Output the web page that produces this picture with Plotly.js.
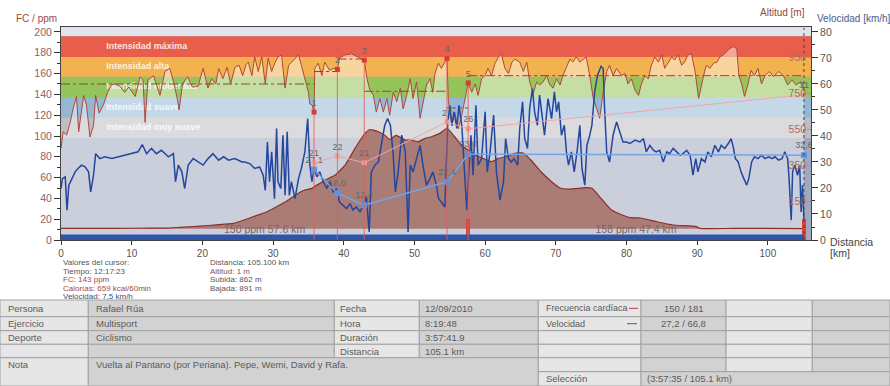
<!DOCTYPE html>
<html><head><meta charset="utf-8">
<script src="https://cdn.plot.ly/plotly-3.0.1.min.js"></script>
<style>body{margin:0;background:#fff}#chart{width:890px;height:386px}</style>
</head><body><div id="chart"></div>
<script>
// ---------------- DATA ----------------
const hrKm = [0,0.3,0.8,1.3,1.7,2.2,2.5,3.2,3.6,4.1,4.6,4.9,5.4,6.0,6.6,7.1,7.6,8.3,9.0,9.6,10.5,11.2,11.6,11.9,12.3,13.1,14.0,14.7,15.4,16.0,16.5,16.7,17.2,17.9,18.6,19.4,20.1,20.8,21.3,21.9,22.3,22.9,23.5,24.0,24.6,25.2,25.7,26.2,26.5,27.0,27.4,27.9,28.4,28.9,29.3,29.8,30.3,30.7,31.2,31.7,32.2,32.6,33.1,33.6,34.0,34.5,35.0,35.2,35.5,35.8,35.9,36.4,36.9,37.3,38.0,38.5,39.1,39.4,40.2,41.1,42.1,42.9,43.3,43.7,44.2,44.6,45.1,45.6,46.1,46.5,47.0,47.5,48.0,48.4,48.9,49.4,49.8,50.3,50.8,51.2,51.7,52.2,52.6,52.9,53.4,53.8,54.3,54.6,54.8,55.3,55.7,56.2,56.7,57.1,57.6,58.1,58.6,59.0,59.5,60.0,60.4,60.9,61.4,61.9,62.3,62.8,63.3,63.8,64.2,64.9,65.4,65.9,66.3,66.8,67.3,67.7,68.2,68.7,69.1,69.6,70.1,70.6,71.0,71.5,72.0,72.4,72.9,73.4,73.9,74.3,74.8,75.3,75.8,76.2,76.7,77.2,77.6,78.1,78.6,79.3,79.8,80.2,80.7,81.2,81.7,82.1,82.6,83.1,83.5,84.0,84.5,85.0,85.4,85.9,86.4,86.8,87.3,87.8,88.2,88.7,89.2,89.7,90.2,90.9,91.3,91.8,92.3,92.8,93.2,93.7,94.2,94.6,95.1,95.6,95.9,96.3,96.7,97.2,97.6,98.1,98.6,99.1,99.6,100.2,100.8,101.5,102.2,102.8,103.4,104.0,104.6,105.1];
const hrBpm = [88,104,101,113,126,138,104,139,130,99,110,139,122,130,142,149,150,148,142,147,138,157,154,113,154,158,139,162,165,150,134,125,150,157,147,148,165,146,155,150,165,155,166,150,166,168,158,169,171,158,176,162,176,150,175,162,171,176,178,146,168,171,175,178,168,155,142,131,130,123,165,170,158,171,163,165,164,175,178,179,176,173,155,144,139,123,136,123,136,120,142,133,146,126,139,155,136,152,117,130,149,155,142,160,170,165,171,174.5,133,110,123,107,120,133,151,142,150,139,155,158,165,158,170,176,179,165,160,171,174,171,162,171,152,141,152,149,152,158,150,146,155,149,158,166,174,171,176,171,174,176,158,136,126,117,142,162,168,158,165,158,160,150,155,144,139,150,158,155,168,176,171,178,165,171,176,173,178,168,171,178,179,162,136,158,168,165,170,171,176,178,181,184,186,184,158,150,138,150,163,158,165,150,158,162,157,162,158,149,154,149,152,143];

const velKm = [0,0.2,0.6,0.85,1.1,1.5,2.0,2.4,2.9,3.4,3.9,4.1,4.2,4.6,4.9,5.5,6.2,7.2,8.1,9.0,10.0,10.9,11.5,12.1,12.8,13.5,14.2,15.2,15.9,16.2,16.6,17.1,17.5,18.0,18.7,19.4,20.1,20.8,21.5,22.3,23.0,23.7,24.6,25.6,26.0,26.7,27.4,28.1,28.6,28.9,29.2,29.5,29.8,30.2,30.5,30.7,31.1,31.4,31.7,32.0,32.3,32.6,33.1,33.6,34.0,34.5,34.9,35.2,35.5,35.8,36.2,36.6,37.1,37.6,38.0,38.5,39.0,39.4,39.9,40.4,40.9,41.3,41.8,42.3,42.8,43.2,43.6,43.9,44.4,44.9,45.3,45.8,46.2,46.6,47.0,47.3,47.7,48.2,48.7,49.1,49.4,49.8,50.3,50.8,51.2,51.7,52.2,52.6,53.1,53.4,53.8,54.3,54.7,55.0,55.3,55.6,56.0,56.3,56.7,57.1,57.4,57.6,58.0,58.3,58.7,59.0,59.5,60.0,60.3,60.7,61.2,61.6,62.1,62.6,62.9,63.3,63.7,64.1,64.6,64.9,65.3,65.6,66.0,66.3,66.7,67.0,67.4,67.7,68.1,68.4,68.9,69.4,69.8,70.1,70.4,70.8,71.2,71.5,71.8,72.2,72.6,73.0,73.4,73.7,74.1,74.4,74.8,75.1,75.5,75.9,76.4,76.7,76.9,77.2,77.6,78.1,78.6,79.0,79.5,80.0,80.5,81.2,81.9,82.4,82.8,83.3,83.8,84.2,84.7,85.2,85.7,86.1,86.6,87.1,87.6,88.0,88.5,89.0,89.4,89.8,90.1,90.6,91.1,91.5,92.0,92.5,93.0,93.4,93.9,94.4,94.8,95.1,95.4,95.8,96.2,96.6,97.0,97.3,97.7,98.1,98.6,99.1,99.6,100.1,100.6,101.0,101.5,102.0,102.4,102.8,103.0,103.3,103.5,103.8,104.2,104.5,104.7,104.9,105.1];
const velKmh = [19.8,23.6,24.3,11.5,21,23.6,26.2,27.5,28.8,28.1,26.2,21,18.5,24.9,33.2,31.3,32,31.3,32,32.6,33.2,33.9,36.7,33.2,35.2,33.2,34.5,32,33.2,22.4,28.8,26.2,19.8,28.8,31.3,30,28.8,31.3,33.2,30.7,32,30.7,31.3,30,30,29.4,27.5,28.1,24.9,19.1,37.7,22.4,33.9,15.9,42.9,22.4,19.8,40.3,17.2,41.6,17.2,22.4,15.9,23.6,27.5,33.9,46.7,28.8,22.4,27.5,24.3,26.2,22.4,19.8,22.4,18.5,19.8,14.6,13.4,12.1,14,11.5,12.7,10.8,13.4,16.6,3.1,26.2,28.8,30,36.4,44.1,46.7,44.1,32.6,18.5,26.2,40.3,33.9,3.1,28.8,26.2,31.3,36.4,28.8,21.1,23.6,26.2,21.1,16,14.6,12.7,44.1,51.8,44.1,49.3,42.9,51.8,44.1,24.9,11.5,22.4,40.3,24.9,51.8,28.8,31.3,49.3,26.2,33.9,48,26.2,15.3,22.4,39,31.3,30,31.3,28.8,42.9,53.1,39,35.2,50.5,58.2,49.3,44.1,55.7,46.7,40.3,54.4,46.7,57,49.3,53.1,40.3,44.1,33.9,28.8,33.9,26.2,33.9,44.1,27.5,21.1,36.4,40.3,44.1,57,63.4,66.8,65.9,50.5,33.9,30,40.3,45.4,41.6,37.7,37.7,37.1,38.4,37.7,39,33.9,36.4,34.5,33.9,34.5,30,33.9,33.2,35.2,33.9,32.6,33.2,34.5,32.6,24.9,31.3,26.2,31.3,30,33.9,32,36.4,33.9,36.4,35.2,37.1,39,35.8,31.3,30,26.2,23.6,21.1,23.6,30,32,31.3,32.6,31.3,32,31.3,32,30.7,31.3,33.9,31.3,23.6,7.6,26.2,28.8,24.9,28.8,10.8,21.1,7.5];

const altKm = [0,5,10,15,16.8,19.7,22,24.4,26,27.4,28.9,30.3,31.7,33.1,34.3,35.5,36.2,37.3,38.8,40.2,41.6,43.0,43.7,44.9,45.8,46.5,47.4,48.7,49.6,50.5,51.5,52.4,53.6,54.6,55.7,56.5,57.6,59.0,60.0,60.9,61.9,62.8,64.2,65.4,66.5,67.9,69.4,70.6,71.8,73.2,74.1,75.1,76.0,77.0,77.9,79.3,80.5,82.0,84.3,86.6,89.9,90.4,95,100,105.1];
const altM = [2,2,3,4,8,15,22,30,50,70,90,118,148,185,212,224,242,268,298,353,446,529,550,538,519,495,518,492,492,482,501,510,529,557,510,470,435,402,385,372,390,399,418,420,380,316,261,226,220,224,228,225,187,141,104,78,62,60,39,21,12,2,2,2,1];

const lapEndKm   = [35.8, 39.1, 42.9, 54.6, 57.6, 105.1];
const lapStartKm = [0, 35.8, 39.1, 42.9, 54.6, 57.6];
const lapMarkHr  = [123, 164, 173, 174.5, 151];
const lapNames   = ['1','2','3','4','5'];
const lapAvgHr   = [150, 162, 174, 143, 127, 158];
const lapAvgVel  = [27.1, 18.0, 13.4, 22.4, 33.0, 32.6];
const lapAvgVelText = ['27,1','18,0','13,4','22,4','33,0','32,6'];
const lapTemp    = [21, 22, 21, 27, 26, 31];

const zoneLow   = [98, 118, 137, 157, 176];
const zoneHigh  = [118, 137, 157, 176, 196];
const zoneNames = ['Intensidad muy suave','Intensidad suave','Intensidad moderada','Intensidad alta','Intensidad máxima'];

const segStartKm = [0, 57.6];
const segEndKm   = [57.6, 105.1];
const segText    = ['150 ppm 57.6 km', '158 ppm 47.4 km'];

const cursorKm = 105.1;
const markKm   = [57.6, 105.1];
const markHr   = [20, 20];
const selKm    = [0, 105.1];

const xTicks   = [0,10,20,30,40,50,60,70,80,90,100];
const altTicks = [150,350,550,750,950];

// ---------------- STYLE / LAYOUT ----------------
const F = 'Liberation Sans, Arial, sans-serif';
const L = 61, R = 79, T = 27, B = 146, W = 890, H = 386;
const PW = W - L - R, PH = H - T - B;
const PX = p => (p - L) / PW;
const PY = p => (H - B - p) / PH;

const zoneColors = ['#bdbdc3', '#94b8d3', '#94c45a', '#f2b250', '#e85e4a'];
const traces = [];

traces.push({x: zoneNames.map(() => 6.4), y: zoneLow.map((v,i) => (v + zoneHigh[i]) / 2),
  mode: 'text', text: zoneNames, textposition: 'middle right',
  textfont: {family: F, size: 9, color: 'rgba(255,255,255,0.85)', weight: 'bold'},
  hoverinfo: 'skip', showlegend: false, xaxis: 'x', yaxis: 'y'});

traces.push({x: hrKm, y: hrBpm, mode: 'lines', line: {color: '#b0483c', width: 1},
  fill: 'tozeroy', fillcolor: 'rgba(255,255,255,0.45)', hoverinfo: 'skip', showlegend: false, xaxis: 'x', yaxis: 'y'});

traces.push({x: altKm, y: altM, mode: 'lines', line: {color: '#8e2e28', width: 1.2, shape: 'spline', smoothing: 0.4},
  fill: 'tozeroy', fillcolor: '#a97c75', hoverinfo: 'skip', showlegend: false, xaxis: 'x', yaxis: 'y2'});

traces.push({x: velKm, y: velKmh, mode: 'lines', line: {color: '#24469e', width: 1.5},
  hoverinfo: 'skip', showlegend: false, xaxis: 'x', yaxis: 'y3'});

traces.push({x: lapEndKm, y: lapAvgVel, mode: 'lines+markers+text', text: lapAvgVelText, textposition: 'top center',
  textfont: {family: F, size: 9, color: '#666'},
  line: {color: '#74a4e4', width: 1.5}, marker: {symbol: 'square', size: 6, color: '#5a94e6'},
  hoverinfo: 'skip', showlegend: false, xaxis: 'x', yaxis: 'y3'});

traces.push({x: lapEndKm, y: lapTemp, mode: 'lines+markers+text', text: lapTemp.map(String), textposition: 'top center',
  textfont: {family: F, size: 9, color: '#666'},
  line: {color: '#f0a6a6', width: 1}, marker: {symbol: 'square', size: 5, color: '#f4a0a0'},
  hoverinfo: 'skip', showlegend: false, xaxis: 'x', yaxis: 'y4'});

traces.push({x: selKm, y: [5.3, 5.3], mode: 'lines', line: {width: 0, color: '#2f55a8'},
  fill: 'tozeroy', fillcolor: '#2f55a8', hoverinfo: 'skip', showlegend: false, xaxis: 'x', yaxis: 'y5'});

const vx = [], vy = [];
lapMarkHr.forEach((h, i) => { vx.push(lapEndKm[i], lapEndKm[i], null); vy.push(h, 0, null); });
traces.push({x: vx, y: vy, mode: 'lines', line: {color: 'rgba(225,95,90,0.85)', width: 1},
  hoverinfo: 'skip', showlegend: false, xaxis: 'x', yaxis: 'y5'});

const dx = [], dy = [];
lapAvgHr.forEach((h, i) => { dx.push(lapStartKm[i], lapEndKm[i], null); dy.push(h, h, null); });
traces.push({x: dx, y: dy, mode: 'lines', line: {color: '#8a4a30', width: 1, dash: 'dashdot'},
  hoverinfo: 'skip', showlegend: false, xaxis: 'x', yaxis: 'y5'});

traces.push({x: lapEndKm.slice(0, lapMarkHr.length), y: lapMarkHr, mode: 'markers+text', text: lapNames,
  textposition: 'top center', textfont: {family: F, size: 9, color: '#666'},
  marker: {symbol: 'square', size: 5, color: '#d83c34'}, hoverinfo: 'skip', showlegend: false, xaxis: 'x', yaxis: 'y5'});

traces.push({x: [cursorKm, cursorKm], y: [0, 204], mode: 'lines', line: {color: '#444', width: 1, dash: 'dot'},
  hoverinfo: 'skip', showlegend: false, xaxis: 'x', yaxis: 'y5'});

traces.push({type: 'bar', x: markKm, y: markHr, width: 0.5, marker: {color: '#e2403a', line: {width: 0}},
  hoverinfo: 'skip', showlegend: false, xaxis: 'x', yaxis: 'y5'});

traces.push({x: segStartKm.map((s, i) => (s + segEndKm[i]) / 2), y: segStartKm.map(() => 9.5), mode: 'text', text: segText,
  textfont: {family: F, size: 10.5, color: '#7c6464'}, hoverinfo: 'skip', showlegend: false, xaxis: 'x', yaxis: 'y5'});

const shapes = [];
shapes.push({type: 'rect', xref: 'paper', yref: 'y', x0: 0, x1: 1, y0: 196, y1: 205, fillcolor: '#e0e3ea', line: {width: 0}, layer: 'below'});
zoneLow.forEach((lo, i) => shapes.push({type: 'rect', xref: 'paper', yref: 'y', x0: 0, x1: 1, y0: lo, y1: zoneHigh[i],
  fillcolor: zoneColors[i], line: {width: 0}, layer: 'below'}));

const annotations = [];
function ann(text, px, py, o = {}) {
  annotations.push(Object.assign({xref: 'paper', yref: 'paper', x: PX(px), y: PY(py), text, showarrow: false,
    xanchor: 'left', yanchor: 'middle', font: {family: F, size: 11, color: '#555'}}, o));
}
function rect(x0, y0, x1, y1, fill) {
  shapes.push({type: 'rect', xref: 'paper', yref: 'paper', x0: PX(x0), x1: PX(x1), y0: PY(y0), y1: PY(y1),
    fillcolor: fill, line: {color: '#a2a2a2', width: 1}, layer: 'above'});
}

ann('FC / ppm', 59, 19, {xanchor: 'right', font: {family: F, size: 10, color: '#9a4a48'}});
ann('Altitud [m]', 807, 12.5, {xanchor: 'right', font: {family: F, size: 10, color: '#8e4a40'}});
ann('Velocidad [km/h]', 815, 19, {font: {family: F, size: 10, color: '#4a5c86'}});
ann('Distancia', 828, 241.5, {font: {family: F, size: 10.5, color: '#444'}});
ann('[km]', 828, 253, {font: {family: F, size: 10.5, color: '#444'}});

const c1 = ['Valores del cursor:', 'Tiempo: 12:17:23', 'FC: 143 ppm', 'Calorías: 659 kcal/60min', 'Velocidad: 7,5 km/h'];
const c1c = ['#555', '#555', '#a04a48', '#a04a48', '#3c4c78'];
c1.forEach((t, i) => ann(t, 61, 262.5 + i * 8.5, {font: {family: F, size: 8, color: c1c[i]}}));
const c2 = ['Distancia: 105.100 km', 'Altitud: 1 m', 'Subida: 862 m', 'Bajada: 891 m'];
const c2c = ['#555', '#a04a48', '#555', '#555'];
c2.forEach((t, i) => ann(t, 207.5, 262.5 + i * 8.5, {font: {family: F, size: 8, color: c2c[i]}}));

const cx = [0, 88.3, 334.3, 419.3, 538.3, 641, 726, 812.3, 890];
const ry = [300, 316.7, 330.7, 344.3, 357.7, 371.7, 386];
const light = '#e6e6e6', dark = '#d2d2d2';
for (let r = 0; r < 4; r++) for (let c = 0; c < 4; c++) rect(cx[c], ry[r], cx[c + 1], ry[r + 1], c % 2 ? dark : light);
rect(cx[0], ry[4], cx[1], ry[6], light);
rect(cx[1], ry[4], cx[4], ry[6], dark);
for (let r = 0; r < 5; r++) for (let c = 4; c < 8; c++) rect(cx[c], ry[r], cx[c + 1], ry[r + 1], c % 2 ? dark : light);
rect(cx[4], ry[5], cx[5], ry[6], light);
rect(cx[5], ry[5], cx[8], ry[6], dark);

const tcol1 = ['Persona', 'Ejercicio', 'Deporte', ''];
const tcol2 = ['Rafael Rúa', 'Multisport', 'Ciclismo', ''];
const tcol3 = ['Fecha', 'Hora', 'Duración', 'Distancia'];
const tcol4 = ['12/09/2010', '8:19:48', '3:57:41.9', '105.1 km'];
const tcol5 = ['Frecuencia cardíaca', 'Velocidad'];
const tcol6 = ['150 / 181', '27,2 / 66,8'];
const rowMid = r => (ry[r] + ry[r + 1]) / 2;
const TF = {family: F, size: 9.5, color: '#5a5a5a'};
for (let r = 0; r < 4; r++) {
  ann(tcol1[r], cx[0] + 6, rowMid(r), {font: TF});
  ann(tcol2[r], cx[1] + 6, rowMid(r), {font: TF});
  ann(tcol3[r], cx[2] + 4, rowMid(r), {font: TF});
  ann(tcol4[r], cx[3] + 4, rowMid(r), {font: TF});
}
for (let r = 0; r < 2; r++) {
  ann(tcol5[r], cx[4] + 6, rowMid(r), {font: {family: F, size: 9, color: '#5a5a5a'}});
  ann(tcol6[r], (cx[5] + cx[6]) / 2, rowMid(r), {font: TF, xanchor: 'center'});
}
ann('Nota', cx[0] + 6, 364.5, {font: TF});
ann('Vuelta al Pantano (por Periana). Pepe, Wemi, David y Rafa.', cx[1] + 6, 364.5, {font: TF});
ann('Selección', cx[4] + 6, rowMid(5), {font: TF});
ann('(3:57:35 / 105.1 km)', cx[5] + 4, rowMid(5), {font: TF});
shapes.push({type: 'line', xref: 'paper', yref: 'paper', x0: PX(629), x1: PX(638), y0: PY(rowMid(0)), y1: PY(rowMid(0)), line: {color: '#c04040', width: 1}});
shapes.push({type: 'line', xref: 'paper', yref: 'paper', x0: PX(627), x1: PX(637), y0: PY(rowMid(1)), y1: PY(rowMid(1)), line: {color: '#3a5aa0', width: 1}});

const layout = {
  width: W, height: H, margin: {l: L, r: R, t: T, b: B, pad: 0},
  paper_bgcolor: '#ffffff', plot_bgcolor: '#a0a8be', showlegend: false, bargap: 0,
  font: {family: F, size: 10.5, color: '#555'},
  xaxis: {range: [0, 106.1], tickvals: xTicks, ticks: 'outside', ticklen: 4, tickcolor: '#333',
    showline: true, mirror: true, linecolor: '#444', linewidth: 1, showgrid: false, zeroline: false,
    tickfont: {family: F, size: 10, color: '#555'}, fixedrange: true},
  yaxis: {range: [0, 204.8], dtick: 20, tick0: 0, ticks: 'outside', ticklen: 6, tickcolor: '#333',
    minor: {dtick: 10, ticks: 'outside', ticklen: 3, tickcolor: '#333'},
    showline: true, linecolor: '#444', showgrid: false, zeroline: false,
    tickfont: {family: F, size: 10.5, color: '#8a6262'}, fixedrange: true},
  yaxis2: {overlaying: 'y', side: 'right', range: [-62, 1118], tickvals: altTicks, ticks: 'inside', ticklen: 4,
    tickcolor: '#999', ticklabelposition: 'inside', showline: false, showgrid: false, zeroline: false,
    tickfont: {family: F, size: 10.5, color: '#b4685a'}, fixedrange: true},
  yaxis3: {overlaying: 'y', side: 'right', range: [0, 81.9], dtick: 10, tick0: 0, ticks: 'outside', ticklen: 6,
    tickcolor: '#333', minor: {dtick: 5, ticks: 'outside', ticklen: 3, tickcolor: '#333'},
    showline: true, linecolor: '#444', showgrid: false, zeroline: false,
    tickfont: {family: F, size: 10.5, color: '#555'}, fixedrange: true},
  yaxis4: {overlaying: 'y', range: [9.65, 40.97], visible: false, fixedrange: true},
  yaxis5: {overlaying: 'y', range: [0, 204.8], visible: false, fixedrange: true},
  shapes, annotations
};

Plotly.newPlot('chart', traces, layout, {staticPlot: true, displayModeBar: false});
</script></body></html>
